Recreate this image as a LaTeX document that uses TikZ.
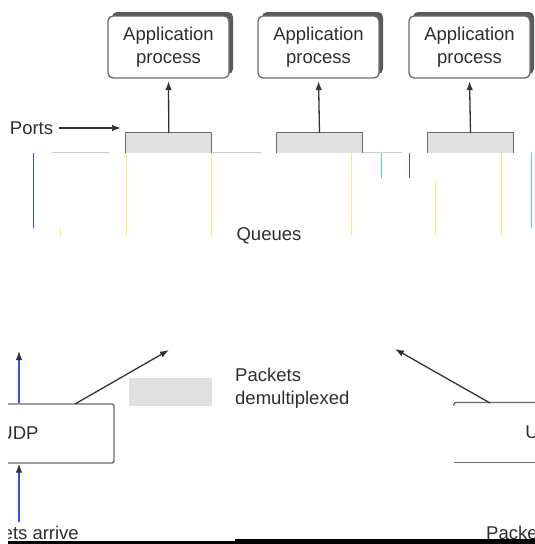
\documentclass[tikz,border=0pt]{standalone}
\usepackage{fontspec}
\setmainfont{Liberation Sans}
\usetikzlibrary{arrows.meta,shadows}
\definecolor{txt}{HTML}{2E2E2E}
\definecolor{edge}{HTML}{6A6A6A}
\definecolor{shade}{HTML}{5A5A5A}
\definecolor{portfill}{HTML}{E0E0E0}
\definecolor{conncol}{HTML}{333333}
\definecolor{fringeblue}{HTML}{3050F0}
\definecolor{fringeyellow}{HTML}{F8F060}
\definecolor{fringecyan}{HTML}{40E0C0}
\begin{document}
\begin{tikzpicture}[x=1pt,y=-1pt,
  font=\fontsize{18.5}{23}\selectfont,
  every node/.style={text=txt, inner sep=0pt},
  appbox/.style={draw=edge, line width=1.3pt, rounded corners=5pt, fill=white,
     minimum width=121pt, minimum height=62pt, align=center,
     general shadow={fill=shade, shadow xshift=4pt, shadow yshift=4pt}},
  portbox/.style={fill=portfill, minimum width=85.5pt, minimum height=19.5pt},
  boxline/.style={draw=edge, line width=1.3pt},
  conn/.style={draw=conncol, line width=1.3pt, -{Latex[length=9pt,width=6.5pt]}},
  upconn/.style={draw=fringeblue, line width=1.3pt, -{Latex[length=9pt,width=6.5pt,color=conncol]}},
  txtleft/.style={align=left},
  fringe/.style={line width=1pt}
]
\useasboundingbox (0,0) rectangle (535,544);
\clip (8,0) rectangle (535,544);

% faint artefact lines
\draw[fringe, fringeyellow] (126,153) -- (126,237);
\draw[fringe, fringeyellow] (211.5,153) -- (211.5,237);
\draw[fringe, fringeyellow] (60,228) -- (60,237);
\draw[fringe, fringeyellow] (351,153) -- (351,235);
\draw[fringe, fringeyellow] (435.7,181) -- (435.7,235);
\draw[fringe, fringeyellow] (501.7,153) -- (501.7,235);
\draw[fringe, fringeblue] (33,153) -- (33,228);
\draw[fringe, fringecyan] (381,153) -- (381,178);
\draw[fringe, fringeblue] (409,153) -- (409,178);
\draw[fringe, fringecyan] (531.7,153) -- (531.7,228);
\draw[line width=0.8pt, gray!40] (52,152.5) -- (110,152.5) (213,152.5) -- (262,152.5) (337,152.5) -- (402,152.5);

% application processes
\node[appbox] (a1) at (168.5,47) {Application\\process};
\node[appbox] (a2) at (318.5,47) {Application\\process};
\node[appbox] (a3) at (469.5,47) {Application\\process};

% ports
\node[portbox] (p1) at (168.75,142.75) {};
\node[portbox] (p2) at (319.5,142.75) {};
\node[portbox] (p3) at (470.5,142.75) {};
\foreach \p in {p1,p2,p3}
  \draw[boxline] (\p.south west) -- (\p.north west) -- (\p.north east) -- (\p.south east);

\draw[conn, shorten >=2.5pt] (p1.north) -- (a1.south);
\draw[conn, shorten >=2.5pt] (p2.north) -- (a2.south);
\draw[conn, shorten >=2.5pt] (p3.north) -- (a3.south);

\node (ports) at (31.5,128) {Ports};
\coordinate (portsTip) at (121,128);
\draw[conn, shorten <=6pt] (ports.east) -- (portsTip);

\node (queues) at (269,236) {Queues};

% lower part
\fill[portfill] (129,378) rectangle (211.5,406);

\node[boxline, rounded corners=2pt, minimum width=190pt, minimum height=59pt] (udpL) at (19,433.5) {UDP};
\node[minimum width=182pt, minimum height=59.6pt] (udpR) at (545,432.5) {UDP};
\draw[boxline, rounded corners=2pt] ([yshift=-3pt]udpR.north west) -- (udpR.north west) -- (udpR.north east);
\draw[boxline] (udpR.south west) -- (udpR.south east);

\coordinate (qL) at (19,351);
\coordinate (inL) at (19,522);
\draw[upconn] (udpL.north) -- (qL);
\draw[upconn] (inL) -- (udpL.south);

\coordinate (dLs) at (75,404);
\coordinate (dLt) at (169,350);
\draw[conn] (dLs) -- (dLt);
\coordinate (dRs) at (490,403);
\coordinate (dRt) at (395,349);
\draw[conn] (dRs) -- (dRt);

\node[txtleft, anchor=west] (demux) at (235,388) {Packets\\demultiplexed};
\node[anchor=base east] (arrL) at (79,539) {Packets arrive};
\node[anchor=base west] (arrR) at (486,539) {Packets arrive};

\fill[black] (8,540.5) rectangle (235,544);
\fill[black] (235,539) rectangle (535,544);
\end{tikzpicture}
\end{document}
